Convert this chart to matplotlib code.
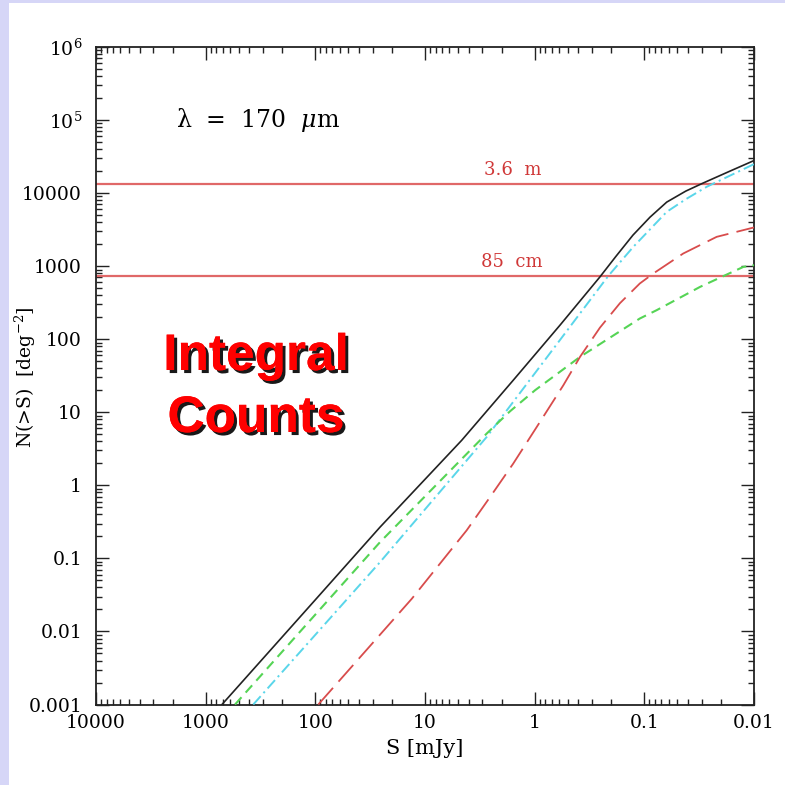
import matplotlib
matplotlib.use("Agg")
import matplotlib.pyplot as plt
from matplotlib.patches import Rectangle
from matplotlib import patheffects
from matplotlib.ticker import FixedLocator, LogLocator, NullFormatter

plt.rcParams['lines.scale_dashes'] = False
plt.rcParams['mathtext.fontset'] = 'dejavuserif'
plt.rcParams['font.family'] = ['DejaVu Serif']

# ---- data (S in mJy, N(>S) in deg^-2) ----
total_S = [710, 100.7, 25.7, 4.63, 1.57, 0.587, 0.254, 0.181, 0.127, 0.0887, 0.0625, 0.0419, 0.0292, 0.01656, 0.01]
total_N = [0.001, 0.0268, 0.268, 4.13, 27.4, 156, 713, 1370, 2660, 4690, 7530, 10650, 13700, 20000, 27900]

cyan_S = [368, 25.7, 2.74, 0.764, 0.213, 0.126, 0.0625, 0.0417, 0.027, 0.01]
cyan_N = [0.001, 0.0889, 4.59, 57.9, 736, 1840, 5540, 8280, 12200, 24950]

green_S = [540, 25.7, 2.74, 1.68, 0.993, 0.587, 0.386, 0.110, 0.0771, 0.031, 0.0125, 0.01]
green_N = [0.001, 0.167, 5.11, 10.3, 20.0, 35.9, 57.3, 192, 250, 521, 978, 1030]

red_S = [94, 13.2, 4.17, 2.55, 1.57, 0.957, 0.548, 0.386, 0.254, 0.167, 0.110, 0.0828, 0.0442, 0.0219, 0.01]
red_N = [0.001, 0.028, 0.242, 0.692, 1.98, 6.3, 23.4, 57.3, 144, 311, 579, 794, 1490, 2520, 3390]

hlines_N = [13150, 730]
hlines_lab = ["3.6  m", "85  cm"]
hlines_lab_S = 1.6

xticks = [10000, 1000, 100, 10, 1, 0.1, 0.01]
xticklabels = ["10000", "1000", "100", "10", "1", "0.1", "0.01"]
yticks = [1e6, 1e5, 1e4, 1e3, 100, 10, 1, 0.1, 0.01, 0.001]
yticklabels = [r"$10^6$", r"$10^5$", "10000", "1000", "100", "10", "1", "0.1", "0.01", "0.001"]

W = 785
fig = plt.figure(figsize=(7.85, 7.85), dpi=100)
fig.patch.set_facecolor("#d6d6f7")
fig.patches.append(Rectangle((9 / W, 0), 1 - 9 / W, 1 - 3 / W, transform=fig.transFigure,
                             facecolor="white", edgecolor="none", zorder=-10))

ax = fig.add_axes([96 / W, 1 - 704.5 / W, 658 / W, 657.5 / W])
ax.set_zorder(2)
ax.set_facecolor("white")
ax.set_xscale("log")
ax.set_yscale("log")
ax.set_xlim(10000, 0.01)
ax.set_ylim(0.001, 1e6)

# horizontal telescope lines
for n, lab in zip(hlines_N, hlines_lab):
    ax.axhline(n, color="#e06868", lw=1.6, zorder=2)
    ax.annotate(lab, xy=(hlines_lab_S, n), xytext=(0, 4), textcoords="offset points",
                ha="center", va="bottom", fontsize=13, color="#d03838")

ax.plot(total_S, total_N, color="#222222", lw=1.2, zorder=5)
l, = ax.plot(cyan_S, cyan_N, color="#5ad6ea", lw=1.4, zorder=4)
l.set_dashes((8, 3, 1.5, 3))
l, = ax.plot(green_S, green_N, color="#55d455", lw=1.5, zorder=4)
l.set_dashes((7, 4.5))
l, = ax.plot(red_S, red_N, color="#d84c4c", lw=1.3, zorder=4)
l.set_dashes((16, 6))

ax.xaxis.set_major_locator(FixedLocator(xticks))
ax.set_xticklabels(xticklabels)
ax.yaxis.set_major_locator(FixedLocator(yticks))
ax.set_yticklabels(yticklabels)
ax.xaxis.set_minor_locator(LogLocator(base=10, subs=range(2, 10), numticks=20))
ax.yaxis.set_minor_locator(LogLocator(base=10, subs=range(2, 10), numticks=20))
ax.xaxis.set_minor_formatter(NullFormatter())
ax.yaxis.set_minor_formatter(NullFormatter())
ax.tick_params(which="both", direction="in", top=True, right=True, width=1.0, color="#222222")
ax.tick_params(which="major", length=9.5)
ax.tick_params(which="minor", length=4.5)
ax.tick_params(axis="y", which="major", pad=10, labelsize=13.5)
ax.tick_params(axis="x", which="major", pad=7, labelsize=13.5)
for sp in ax.spines.values():
    sp.set_linewidth(1.3)
    sp.set_color("#222222")

fig.text(25 / W, 1 - 377 / W, r"N(>S)  [deg$^{-2}$]", rotation=90, ha="center", va="center", fontsize=13.5)
fig.text(425 / W, 1 - 748 / W, "S [mJy]", ha="center", va="center", fontsize=15)
fig.text(176 / W, 1 - 120 / W, "λ  =  170  $\\mu$m", ha="left", va="center", fontsize=17)

pe = [patheffects.withSimplePatchShadow(offset=(2.2, -2.2), shadow_rgbFace="black", alpha=0.9),
      patheffects.Normal()]
for txt, yb in (("Integral", 370), ("Counts", 432)):
    fig.text(256 / W, 1 - yb / W, txt, ha="center", va="baseline", fontsize=37,
             fontweight="bold", family="Liberation Sans", color="#ff0000", path_effects=pe,
             zorder=5)

fig.savefig("out.png", dpi=100, facecolor=fig.get_facecolor())
